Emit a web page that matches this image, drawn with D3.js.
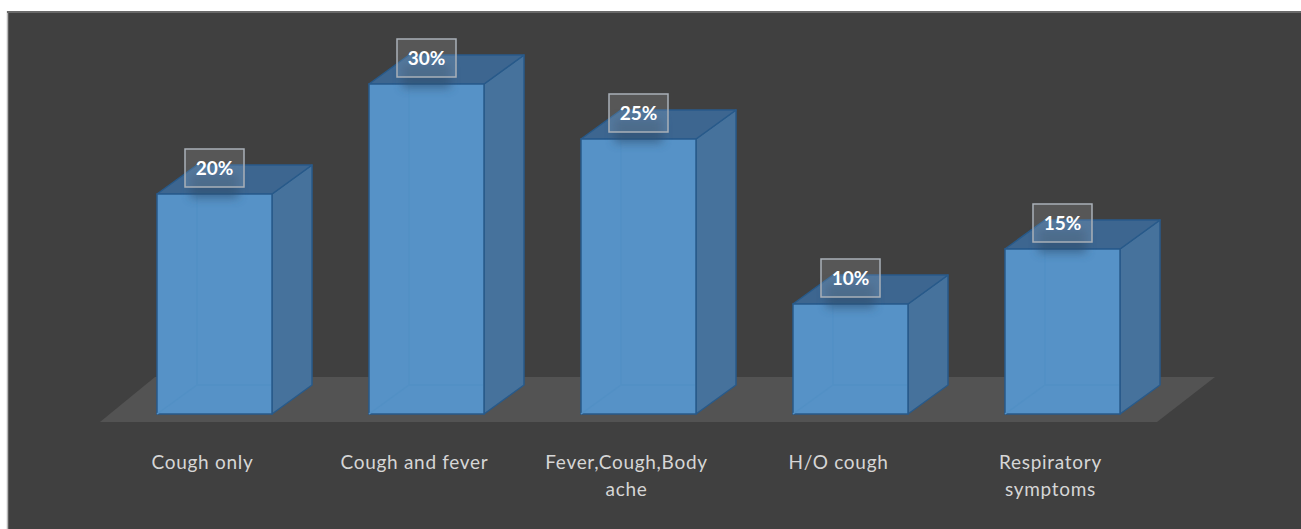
<!DOCTYPE html>
<html>
<head>
<meta charset="utf-8">
<script src="https://cdn.jsdelivr.net/npm/d3@7"></script>
<style>
  html, body { margin: 0; padding: 0; background: #ffffff; }
  svg { display: block; }
</style>
</head>
<body>
<svg id="chart" width="1301" height="529"></svg>
<script>
// Symptom categories and the share of patients reporting each
const categories = ["Cough only", "Cough and fever", "Fever,Cough,Body ache", "H/O cough", "Respiratory symptoms"];
const categoryLines = [["Cough only"], ["Cough and fever"], ["Fever,Cough,Body", "ache"], ["H/O cough"], ["Respiratory", "symptoms"]];
const values = [20, 30, 25, 10, 15];
const valueLabels = ["20%", "30%", "25%", "10%", "15%"];

const svg = d3.select("#chart");
const W = 1301, H = 529;

// panel background
svg.append("rect").attr("x", 7).attr("y", 11).attr("width", W - 7).attr("height", H - 11).attr("fill", "#404040");
svg.append("line").attr("x1", 7.5).attr("x2", 7.5).attr("y1", 11).attr("y2", H).attr("stroke", "#b8b8b8").attr("stroke-width", 1.5);
svg.append("line").attr("x1", 7).attr("x2", W).attr("y1", 12).attr("y2", 12).attr("stroke", "#6a6a6a").attr("stroke-width", 2);

const x = d3.scaleBand().domain(categories).range([157, 1120]).paddingInner(0.4575).paddingOuter(0);
const y = d3.scaleLinear().domain([0, 30]).range([414, 84]);

// oblique projection offset for depth
const dx = 40, dy = -29;

const defs = svg.append("defs");
const shadow = defs.append("filter").attr("id", "lblShadow").attr("x", "-50%").attr("y", "-50%").attr("width", "200%").attr("height", "200%");
shadow.append("feGaussianBlur").attr("stdDeviation", 5);

// floor
const floorY0 = y(0) + 8;
const floor = [[100, floorY0], [1157, floorY0], [1215, floorY0 - 45], [155, floorY0 - 45]];
svg.append("polygon").attr("points", floor.map(p => p.join(",")).join(" ")).attr("fill", "#535353");

const g = svg.append("g");
const bars = g.selectAll("g.bar").data(values).join("g").attr("class", "bar");

bars.each(function(v, i) {
  const sel = d3.select(this);
  const x0 = x(categories[i]), x1 = x0 + x.bandwidth();
  const yt = y(v), yb = y(0);
  const pts = a => a.map(p => p.join(",")).join(" ");
  // side face
  sel.append("polygon").attr("points", pts([[x1, yt], [x1 + dx, yt + dy], [x1 + dx, yb + dy], [x1, yb]]))
    .attr("fill", "#46729c").attr("stroke", "#285a8a").attr("stroke-width", 1.5).attr("stroke-linejoin", "round");
  // top face
  sel.append("polygon").attr("points", pts([[x0, yt], [x0 + dx, yt + dy], [x1 + dx, yt + dy], [x1, yt]]))
    .attr("fill", "#3d6690").attr("stroke", "#285a8a").attr("stroke-width", 1.5).attr("stroke-linejoin", "round");
  // front face
  sel.append("rect").attr("x", x0).attr("y", yt).attr("width", x1 - x0).attr("height", yb - yt)
    .attr("fill", "#5692c7").attr("stroke", "#285a8a").attr("stroke-width", 1.5);
  // hidden edges faintly visible through the translucent front face
  sel.append("path")
    .attr("d", `M${x0},${yb} L${x0 + dx},${yb + dy} L${x1 - 1},${yb + dy} M${x0 + dx},${yb + dy} L${x0 + dx},${yt + 1}`)
    .attr("fill", "none").attr("stroke", "#5290c5").attr("stroke-width", 1.5);
});

// value labels
const lbl = g.selectAll("g.lbl").data(values).join("g").attr("class", "lbl");
lbl.each(function(v, i) {
  const sel = d3.select(this);
  const cx = x(categories[i]) + x.bandwidth() / 2;
  const cy = y(v) - 26;
  sel.append("rect").attr("x", cx - 24).attr("y", cy + 6).attr("width", 48).attr("height", 24)
    .attr("fill", "#2f4f70").attr("opacity", 0.6).attr("filter", "url(#lblShadow)");
  sel.append("rect").attr("x", cx - 29.5).attr("y", cy - 19).attr("width", 59).attr("height", 38)
    .attr("fill", "#ffffff").attr("fill-opacity", 0.12)
    .attr("stroke", "#a9b0b8").attr("stroke-width", 1.5);
  sel.append("text").attr("x", cx).attr("y", cy + 7)
    .attr("text-anchor", "middle").attr("fill", "#ffffff")
    .attr("font-family", "Lato, 'Open Sans', sans-serif").attr("font-weight", 700).attr("font-size", 19)
    .text(valueLabels[i]);
});

// category labels
const cat = svg.selectAll("text.cat").data(categories).join("text").attr("class", "cat")
  .attr("x", d => x(d) + x.bandwidth() / 2 - 12)
  .attr("y", 469)
  .attr("text-anchor", "middle").attr("fill", "#d6d6d6")
  .attr("font-family", "Lato, 'Open Sans', sans-serif").attr("font-size", 19)
  .attr("letter-spacing", 0.7);
cat.each(function(d, i) {
  d3.select(this).selectAll("tspan").data(categoryLines[i]).join("tspan")
    .attr("x", x(d) + x.bandwidth() / 2 - 12)
    .attr("dy", (t, j) => j === 0 ? 0 : 27)
    .text(t => t);
});
</script>
</body>
</html>
